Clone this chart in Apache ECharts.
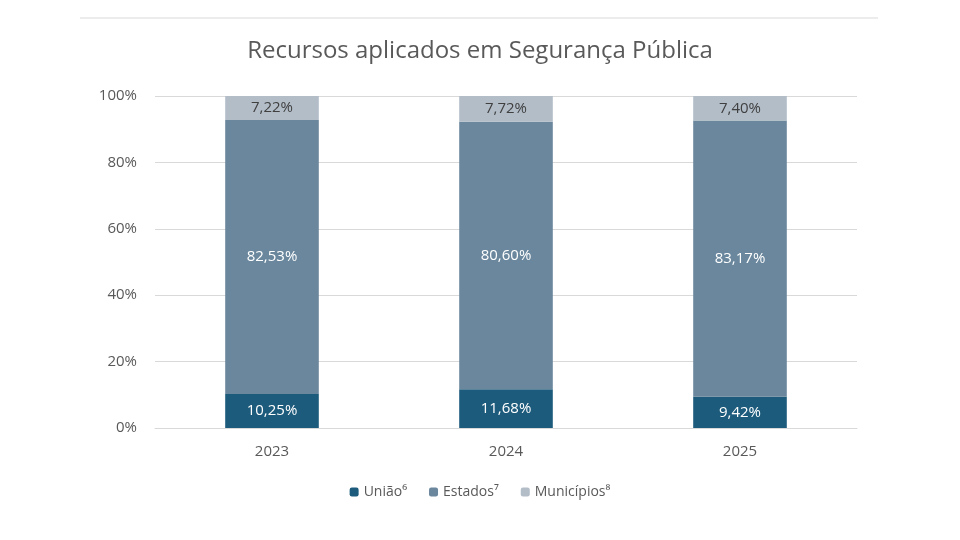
<!DOCTYPE html><html><head><meta charset="utf-8"><script src="https://cdn.jsdelivr.net/npm/echarts@6/dist/echarts.min.js"></script></head><body style="margin:0"><div id="c" style="width:960px;height:540px"></div><script>
const categories=['2023','2024','2025'];
const uniao=[10.25,11.68,9.42];
const estados=[82.53,80.60,83.17];
const municipios=[7.22,7.72,7.40];
const yTicks=[0,20,40,60,80,100];
const fmt=v=>v.toFixed(2).replace('.',',')+'%';
const c=echarts.init(document.getElementById('c'));
function s(name,data,color,lc){return {name,type:'bar',stack:'t',data,barWidth:'40%',itemStyle:{color},
 label:{show:true,position:'inside',color:lc,fontSize:15,fontFamily:'Open Sans',formatter:p=>fmt(p.value)}};}
c.setOption({
 animation:false,
 graphic:[{type:'line',shape:{x1:80,y1:18,x2:878,y2:18},style:{stroke:'#d9d9d9',lineWidth:1}}],
 title:{text:'Recursos aplicados em Segurança Pública',left:'center',top:34,textStyle:{fontFamily:'Open Sans',fontSize:24,fontWeight:'normal',color:'#595959'}},
 grid:{left:155,right:103,top:96,bottom:112},
 legend:{bottom:36,itemWidth:9,itemHeight:9,itemGap:22,textStyle:{fontFamily:'Open Sans',fontSize:14,color:'#595959'},data:['União⁶','Estados⁷','Municípios⁸']},
 xAxis:{type:'category',data:categories,axisTick:{show:false},axisLine:{lineStyle:{color:'#d9d9d9'}},axisLabel:{color:'#595959',fontSize:15,fontFamily:'Open Sans',margin:16}},
 yAxis:{type:'value',min:0,max:100,interval:20,axisLabel:{formatter:'{value}%',color:'#595959',fontSize:15,fontFamily:'Open Sans',margin:18},splitLine:{lineStyle:{color:'#d9d9d9'}}},
 series:[s('União⁶',uniao,'#1d5b7c','#fff'),s('Estados⁷',estados,'#6a879d','#fff'),s('Municípios⁸',municipios,'#b2bdc8','#404040')]
});
</script></body></html>
